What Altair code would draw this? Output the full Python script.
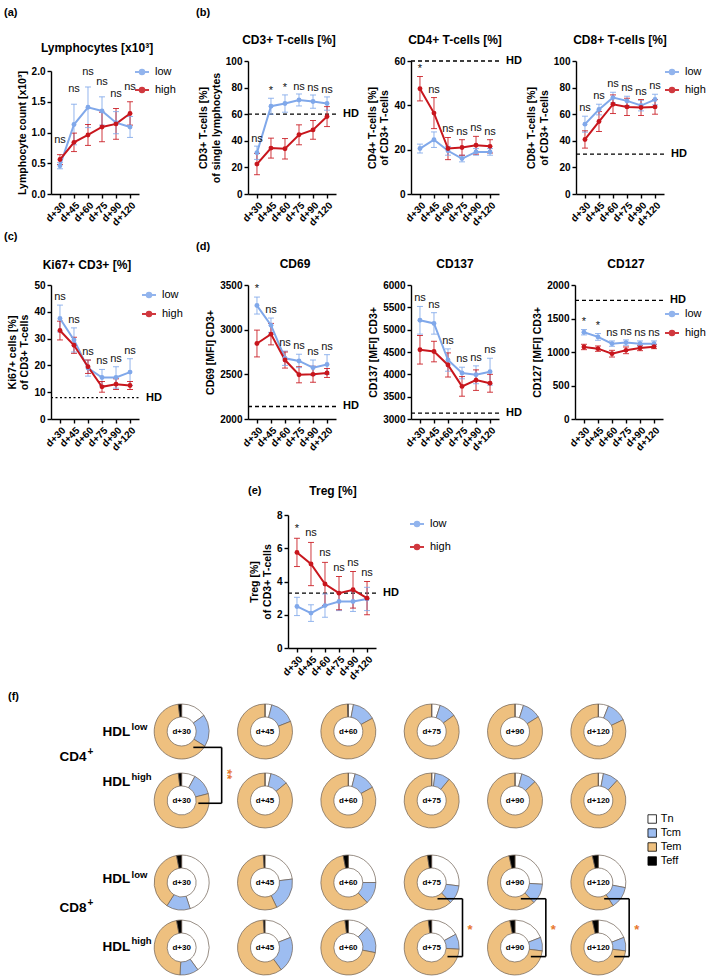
import altair as alt
import pandas as pd

FONT = "Liberation Sans"
DAYS = ["d+30", "d+45", "d+60", "d+75", "d+90", "d+120"]
GROUPS = ["low", "high"]
LOW_COLOR = "#80A8EA"
HIGH_COLOR = "#C8161D"
NS6 = ["ns", "ns", "ns", "ns", "ns", "ns"]

# ---------------- (a) Lymphocytes ----------------
lym_low = [0.46, 1.13, 1.41, 1.35, 1.16, 1.09]
lym_low_err = [0.05, 0.33, 0.33, 0.23, 0.18, 0.17]
lym_high = [0.56, 0.84, 0.96, 1.09, 1.14, 1.31]
lym_high_err = [0.08, 0.15, 0.17, 0.24, 0.25, 0.19]
lym_sig = NS6

# ---------------- (b) ----------------
cd3_low = [31, 66, 68, 70.7, 69.5, 68]
cd3_low_err = [5, 6, 6.5, 4.5, 5, 5]
cd3_high = [22.5, 34.5, 34, 44.5, 48.2, 58.2]
cd3_high_err = [8, 7.5, 7.7, 7.5, 7, 7.5]
cd3_sig = ["ns", "*", "*", "ns", "ns", "ns"]

cd4_low = [20.5, 24.5, 19.5, 16, 19, 19]
cd4_low_err = [2, 3.5, 2, 1.5, 1.5, 1.5]
cd4_high = [47.5, 36.5, 20.5, 21, 22, 21.5]
cd4_high_err = [5.5, 7, 5, 3.5, 4, 3]
cd4_sig = ["*", "ns", "ns", "ns", "ns", "ns"]

cd8_low = [52.5, 63.5, 72.5, 70, 66.5, 71]
cd8_low_err = [6, 4, 4, 3.5, 4, 4]
cd8_high = [41, 54.5, 67.5, 65.5, 65, 65.5]
cd8_high_err = [6.5, 7.5, 7, 6.5, 6, 5.5]
cd8_sig = NS6

# ---------------- (c) ----------------
ki_low = [37.5, 29.5, 19, 15.5, 15.5, 17.5]
ki_low_err = [5, 4.5, 3, 3, 4, 5]
ki_high = [33, 27.5, 19.5, 12, 13, 12.5]
ki_high_err = [3.5, 3, 2.5, 2, 2, 1.5]
ki_sig = NS6

# ---------------- (d) ----------------
cd69_low = [3270, 3050, 2680, 2650, 2575, 2610]
cd69_low_err = [95, 80, 80, 75, 85, 110]
cd69_high = [2845, 2950, 2660, 2495, 2500, 2515]
cd69_high_err = [150, 120, 90, 90, 90, 50]
cd69_sig = ["*", "ns", "ns", "ns", "ns", "ns"]

cd137_low = [5210, 5140, 4320, 4030, 3990, 4060]
cd137_low_err = [310, 240, 250, 130, 200, 300]
cd137_high = [4550, 4510, 4210, 3730, 3870, 3800]
cd137_high_err = [320, 230, 270, 220, 230, 200]
cd137_sig = NS6

cd127_low = [1295, 1225, 1125, 1140, 1125, 1125]
cd127_low_err = [40, 50, 40, 40, 40, 40]
cd127_high = [1075, 1050, 975, 1025, 1060, 1080]
cd127_high_err = [40, 40, 50, 50, 40, 30]
cd127_sig = ["*", "*", "ns", "ns", "ns", "ns"]

# ---------------- (e) ----------------
treg_low = [2.5, 2.1, 2.55, 2.8, 2.8, 2.95]
treg_low_err = [0.55, 0.5, 0.7, 0.55, 0.6, 0.7]
treg_high = [5.75, 5.05, 3.85, 3.3, 3.5, 3.0]
treg_high_err = [0.85, 1.3, 1.3, 1.0, 1.1, 1.0]
treg_sig = ["*", "ns", "ns", "ns", "ns", "ns"]

# ---------------- (f) subsets (fractions) ----------------
CELLS = ["Tn", "Tcm", "Tem", "Teff"]
CELL_COLORS = ["#FFFFFF", "#9DBDF1", "#EEC07F", "#000000"]

cd4_low_tn = [0.15, 0.04, 0.03, 0.05, 0.05, 0.06]
cd4_low_tcm = [0.19, 0.15, 0.14, 0.10, 0.11, 0.12]
cd4_low_tem = [0.64, 0.81, 0.825, 0.85, 0.84, 0.82]
cd4_low_teff = [0.02, 0.0, 0.005, 0.0, 0.0, 0.0]

cd4_high_tn = [0.08, 0.035, 0.04, 0.02, 0.04, 0.03]
cd4_high_tcm = [0.13, 0.105, 0.13, 0.09, 0.09, 0.09]
cd4_high_tem = [0.77, 0.86, 0.83, 0.89, 0.87, 0.88]
cd4_high_teff = [0.02, 0.0, 0.0, 0.0, 0.0, 0.0]

cd8_low_tn = [0.45, 0.23, 0.25, 0.27, 0.26, 0.28]
cd8_low_tcm = [0.14, 0.20, 0.13, 0.11, 0.12, 0.13]
cd8_low_tem = [0.38, 0.56, 0.59, 0.595, 0.585, 0.555]
cd8_low_teff = [0.03, 0.01, 0.03, 0.025, 0.035, 0.035]

cd8_high_tn = [0.40, 0.19, 0.12, 0.17, 0.19, 0.19]
cd8_high_tcm = [0.11, 0.21, 0.16, 0.09, 0.08, 0.08]
cd8_high_tem = [0.46, 0.59, 0.70, 0.72, 0.70, 0.695]
cd8_high_teff = [0.03, 0.01, 0.02, 0.02, 0.03, 0.035]

cd4_brackets = [0]          # column index of significant comparison
cd4_bracket_sig = ["**"]
cd8_brackets = [3, 4, 5]
cd8_bracket_sig = ["*", "*", "*"]

W = 88
SYMBOL = "M-1,0H1M-0.32,0A0.32,0.32,0,1,1,0.32,0A0.32,0.32,0,1,1,-0.32,0Z"
ONE = pd.DataFrame({"k": [0]})


def text_at(label, px, py, size=11, weight="bold", align="left"):
    return alt.Chart(ONE).mark_text(
        align=align, baseline="middle", font=FONT, fontSize=size, fontWeight=weight, color="black"
    ).encode(x=alt.value(px), y=alt.value(py), text=alt.value(label))


def spacer(w, h, labels=()):
    layers = [alt.Chart(ONE).mark_point(opacity=0, size=0).encode(x=alt.value(0), y=alt.value(0))]
    for lbl, px, py in labels:
        layers.append(text_at(lbl, px, py))
    return alt.layer(*layers).properties(width=w, height=h)


def guide(h, top, bottom, labels=()):
    # invisible frame line fixing the row's extent (left edge of page, top/bottom room)
    layers = [alt.Chart(ONE).mark_rule(color="white", strokeWidth=0.5).encode(
        x=alt.value(-49), y=alt.value(-top), y2=alt.value(h + bottom))]
    for lbl, px, py in labels:
        layers.append(text_at(lbl, px, py))
    return alt.layer(*layers).properties(width=1, height=h)


def line_panel(title, title_xy, low, low_err, high, high_err, sig, ydomain, yticks, yfmt, ytitle,
               hd=None, hd_dash=(4, 3), height=133, yrange=None, legend_pos=None,
               legend_rowpad=3, sig_dy=-8, below=()):
    rows = []
    for g, means, errs in (("low", low, low_err), ("high", high, high_err)):
        for i, (d, m, e) in enumerate(zip(DAYS, means, errs)):
            rows.append({"i": i, "day": d, "group": g, "mean": m, "lo": m - e, "hi": m + e})
    df = pd.DataFrame(rows)
    tops = [max(a + b, c + d) for a, b, c, d in zip(low, low_err, high, high_err)]
    sdf = pd.DataFrame({"day": DAYS, "top": tops, "label": sig})

    sk = dict(domain=ydomain, zero=False, nice=False)
    if yrange is not None:
        sk["range"] = yrange
    yscale = alt.Scale(**sk)
    yaxis = alt.Axis(values=yticks, tickCount=len(yticks), format=yfmt, title=ytitle,
                     titlePadding=4, labelOverlap=False)
    x = alt.X("day:N", sort=DAYS, scale=alt.Scale(type="point", padding=0.64),
              axis=alt.Axis(title=None, labelAngle=315, labelOverlap=False))

    def Y(f):
        return alt.Y(f"{f}:Q", scale=yscale, axis=yaxis)

    cs = alt.Scale(domain=GROUPS, range=[LOW_COLOR, HIGH_COLOR])
    if legend_pos is not None:
        leg = alt.Legend(title=None, orient="none", legendX=legend_pos[0], legendY=legend_pos[1],
                         symbolType=SYMBOL, symbolSize=196, symbolStrokeWidth=2,
                         labelFont=FONT, labelFontSize=11, labelColor="black",
                         rowPadding=legend_rowpad, labelOffset=5, padding=0)
    else:
        leg = None
    col = alt.Color("group:N", scale=cs, legend=leg)

    base = alt.Chart(df)
    layers = []
    if hd is not None:
        layers.append(alt.Chart(ONE).mark_rule(color="black", strokeWidth=1.3, strokeDash=list(hd_dash)).encode(
            y=alt.datum(hd), x=alt.value(0), x2=alt.value(W + 2)))
        layers.append(alt.Chart(ONE).mark_text(align="left", baseline="middle", font=FONT, fontSize=11,
                                               fontWeight="bold", color="black").encode(
            y=alt.datum(hd), x=alt.value(W + 7), text=alt.value("HD")))
    layers += [
        base.mark_rule(strokeWidth=1, opacity=0.85).encode(x=x, y=Y("lo"), y2="hi:Q", color=col),
        base.mark_tick(thickness=1, size=6, opacity=0.85).encode(x=x, y=Y("hi"), color=col),
        base.mark_tick(thickness=1, size=6, opacity=0.85).encode(x=x, y=Y("lo"), color=col),
        base.mark_line(strokeWidth=2).encode(x=x, y=Y("mean"), color=col, order="i:Q"),
        base.mark_circle(size=24, opacity=1).encode(x=x, y=Y("mean"), color=col),
        alt.Chart(sdf).mark_text(dy=sig_dy, font=FONT, fontSize=11, color="#111111").encode(
            x=x, y=Y("top"), text="label:N"),
    ]
    if title:
        layers.append(text_at(title, title_xy[0], title_xy[1], size=12, align="center"))
    # headings of the panel placed underneath (next row) are drawn here, in this panel's frame
    for lbl, px, py, size, align in below:
        layers.append(text_at(lbl, px, py, size=size, align=align))
    return alt.layer(*layers).properties(width=W, height=height)


def donut_layers(low_sets, high_sets, yrange, subset, label_dys, sup_dys, name_dy,
                 brackets, bracket_sig, geom, star_pos, star_angle, leg):
    recs = []
    for r, sets in enumerate((low_sets, high_sets)):
        for k, vals in enumerate(sets):
            for c, v in enumerate(vals):
                recs.append({"col": c, "rowpos": r, "day": DAYS[c], "cell": CELLS[k], "order": k, "value": v})
    ddf = pd.DataFrame(recs)
    xs = alt.Scale(domain=[-0.5, 5.5])
    ys = alt.Scale(domain=[0, 1], range=yrange)

    def X(f):
        return alt.X(f, type="quantitative", scale=xs, axis=None)

    def Yq(f):
        return alt.Y(f, type="quantitative", scale=ys, axis=None)

    arcs = alt.Chart(ddf).transform_stack(
        stack="value", groupby=["col", "rowpos"], as_=["t0", "t1"], offset="normalize",
        sort=[alt.SortField("order", order="ascending")]
    ).mark_arc(innerRadius=14.5, outerRadius=27.5, stroke="#6d5f52", strokeWidth=0.7).encode(
        x=X("col"), y=Yq("rowpos"),
        theta=alt.Theta("t0:Q", scale=alt.Scale(domain=[0, 1]), stack=None),
        theta2="t1:Q",
        color=alt.Color("cell:N", scale=alt.Scale(domain=CELLS, range=CELL_COLORS), legend=leg))
    centers = alt.Chart(ddf[ddf["order"] == 0]).mark_text(
        font=FONT, fontSize=8, fontWeight="bold", color="black", baseline="middle").encode(
        x=X("col"), y=Yq("rowpos"), text="day:N")

    segs = []
    stars = []
    for c, s in zip(brackets, bracket_sig):
        segs.append({"x": c + geom["x0"], "x2": c + geom["x1"], "y": geom["yt"], "y2": geom["yt"]})
        segs.append({"x": c + geom["x1"], "x2": c + geom["x1"], "y": geom["yt"], "y2": geom["yb"]})
        segs.append({"x": c + geom["xb"], "x2": c + geom["x1"], "y": geom["yb"], "y2": geom["yb"]})
        stars.append({"x": c + star_pos[0], "y": star_pos[1], "s": s})
    rules = alt.Chart(pd.DataFrame(segs)).mark_rule(color="black", strokeWidth=1.6).encode(
        x=X("x"), x2="x2:Q", y=Yq("y"), y2="y2:Q")
    star_txt = alt.Chart(pd.DataFrame(stars)).mark_text(
        color="#E8772E", fontSize=13, font=FONT, fontWeight="bold", angle=star_angle, baseline="middle", dy=3).encode(
        x=X("x"), y=Yq("y"), text="s:N")

    layers = [arcs, centers, rules, star_txt]
    lab_df = pd.DataFrame({"rowpos": [0, 1], "sup": ["low", "high"]})
    for r in (0, 1):
        sub = lab_df[lab_df["rowpos"] == r]
        layers.append(alt.Chart(sub).mark_text(align="left", baseline="middle", font=FONT, fontSize=13.5,
                                               fontWeight="bold", color="black", dy=label_dys[r]).encode(
            x=alt.value(-37.5), y=Yq("rowpos"), text=alt.value("HDL")))
        layers.append(alt.Chart(sub).mark_text(align="left", baseline="middle", font=FONT, fontSize=9.5,
                                               fontWeight="bold", color="black", dy=sup_dys[r]).encode(
            x=alt.value(-8.5), y=Yq("rowpos"), text="sup:N"))
    mid = alt.YDatum(0.5, type="quantitative", scale=ys, axis=None)
    layers.append(alt.Chart(ONE).mark_text(align="left", baseline="middle", font=FONT, fontSize=13.5,
                                           fontWeight="bold", color="black", dy=name_dy).encode(
        x=alt.value(-80.5), y=mid, text=alt.value(subset)))
    layers.append(alt.Chart(ONE).mark_text(align="left", baseline="middle", font=FONT, fontSize=10,
                                           fontWeight="bold", color="black", dy=name_dy - 5).encode(
        x=alt.value(-52.5), y=mid, text=alt.value("+")))
    return alt.layer(*layers)


def row(*charts):
    return alt.hconcat(*charts, spacing=0, bounds="flush").resolve_scale(
        x="independent", y="independent", color="independent").resolve_legend(color="independent")


# Row 1 (titles of row-2 panels sit in the same columns, 203 px below these frames' tops)
pa = line_panel("Lymphocytes [x10³]", (46, -13), lym_low, lym_low_err, lym_high, lym_high_err, lym_sig,
                [0, 2], [0, 0.5, 1, 1.5, 2], ".1f", "Lymphocyte count [x10³]",
                yrange=[133, 10], legend_pos=[83, 3], sig_dy=-15,
                below=[("Ki67+ CD3+ [%]", 36, 204, 12, "center")])
pb = line_panel("CD3+ T-cells [%]", (41, -21), cd3_low, cd3_low_err, cd3_high, cd3_high_err, cd3_sig,
                [0, 100], [0, 20, 40, 60, 80, 100], "d", ["CD3+ T-cells [%]", "of single lymphocytes"],
                hd=60, sig_dy=-7, below=[("CD69", 47, 203, 12, "center")])
pcd4 = line_panel("CD4+ T-cells [%]", (44, -21), cd4_low, cd4_low_err, cd4_high, cd4_high_err, cd4_sig,
                  [0, 60], [0, 20, 40, 60], "d", ["CD4+ T-cells [%]", "of CD3+ T-cells"], hd=60,
                  below=[("CD137", 44, 203, 12, "center")])
pcd8 = line_panel("CD8+ T-cells [%]", (44, -21), cd8_low, cd8_low_err, cd8_high, cd8_high_err, cd8_sig,
                  [0, 100], [0, 20, 40, 60, 80, 100], "d", ["CD8+ T-cells [%]", "of CD3+ T-cells"],
                  hd=30, legend_pos=[88, 3], below=[("CD127", 50, 203, 12, "center")])

# Row 2
pc = line_panel(None, None, ki_low, ki_low_err, ki_high, ki_high_err, ki_sig,
                [0, 50], [0, 10, 20, 30, 40, 50], "d", ["Ki67+ cells [%]", "of CD3+ T-cells"],
                hd=8, hd_dash=(2, 2.5), height=134, legend_pos=[90, 2], legend_rowpad=4)
pcd69 = line_panel(None, None, cd69_low, cd69_low_err, cd69_high, cd69_high_err, cd69_sig,
                   [2000, 3500], [2000, 2500, 3000, 3500], "d", "CD69 [MFI] CD3+",
                   hd=2140, height=134,
                   below=[("(e)", 0, 206, 11, "left"), ("Treg [%]", 85, 206, 12, "center")])
pcd137 = line_panel(None, None, cd137_low, cd137_low_err, cd137_high, cd137_high_err, cd137_sig,
                    [3000, 6000], [3000, 3500, 4000, 4500, 5000, 5500, 6000], "d", "CD137 [MFI] CD3+",
                    hd=3130, height=134)
pcd127 = line_panel(None, None, cd127_low, cd127_low_err, cd127_high, cd127_high_err, cd127_sig,
                    [0, 2000], [0, 500, 1000, 1500, 2000], "d", "CD127 [MFI] CD3+",
                    hd=1770, height=134, legend_pos=[89, 21], legend_rowpad=4)

# Row 3
pe = line_panel(None, None, treg_low, treg_low_err, treg_high, treg_high_err, treg_sig,
                [0, 8], [0, 2, 4, 6, 8], "d", ["Treg [%]", "of CD3+ T-cells"],
                hd=3.3, legend_pos=[121, 1], legend_rowpad=8, sig_dy=-9)

donut_leg = alt.Legend(title=None, orient="none", legendX=506.7, legendY=116.5,
                       symbolType="square", symbolSize=72, symbolStrokeColor="black",
                       symbolStrokeWidth=0.8, labelFont=FONT, labelFontSize=11, labelColor="black",
                       rowPadding=1, labelOffset=3, padding=0)
d4 = donut_layers([cd4_low_tn, cd4_low_tcm, cd4_low_tem, cd4_low_teff],
                  [cd4_high_tn, cd4_high_tcm, cd4_high_tem, cd4_high_teff],
                  [34.5, 103.5], "CD4", [0, -19], [-5, -24], -9.5,
                  cd4_brackets, cd4_bracket_sig,
                  {"x0": 0.14, "x1": 0.48, "xb": 0.2, "yt": 0.23, "yb": 1.04},
                  (0.58, 0.62), 90, donut_leg)
d8 = donut_layers([cd8_low_tn, cd8_low_tcm, cd8_low_tem, cd8_low_teff],
                  [cd8_high_tn, cd8_high_tcm, cd8_high_tem, cd8_high_teff],
                  [185.5, 250.5], "CD8", [-4, -1], [-8, -7], -7,
                  cd8_brackets, cd8_bracket_sig,
                  {"x0": 0.07, "x1": 0.37, "xb": 0.19, "yt": 0.25, "yb": 1.14},
                  (0.46, 0.69), 0, donut_leg)
donuts = alt.layer(d4, d8).resolve_scale(y="independent").properties(width=500, height=250)

# row extents (top, bottom) chosen so that plot areas land where the reference has them
row1 = row(guide(133, 60, 81, [("(a)", -46, -48), ("(c)", -46, 176)]), pa,
           spacer(109, 133, [("(b)", 57, -48), ("(d)", 57, 186)]), pb,
           spacer(75, 133), pcd4, spacer(77, 133), pcd8)
row2 = row(guide(134, 8.5, 84), pc, spacer(109, 134), pcd69, spacer(75, 134), pcd137,
           spacer(76, 134), pcd127)
row3 = row(guide(133, 10.5, 40.5), spacer(237, 133), pe)
row4 = row(guide(250, 7.5, 0, [("(f)", -42, -0.5)]), spacer(88.3, 250), donuts)

chart = alt.vconcat(row1, row2, row3, row4, spacing=0).resolve_scale(
    x="independent", y="independent", color="independent").resolve_legend(color="independent")

chart = chart.properties(padding={"left": 0, "top": 0, "right": 0, "bottom": 0}).configure_view(
    stroke=None
).configure_axis(
    domainColor="black", domainWidth=1.4, tickColor="black", tickWidth=1.4, tickSize=4,
    labelFont=FONT, labelFontSize=10, labelFontWeight="bold", labelColor="black", labelPadding=2,
    labelOverlap=False,
    titleFont=FONT, titleFontSize=10.5, titleFontWeight="bold", titleColor="black", grid=False
).configure_text(font=FONT)

chart.save("out.html", embed_options={"renderer": "svg", "actions": False})
